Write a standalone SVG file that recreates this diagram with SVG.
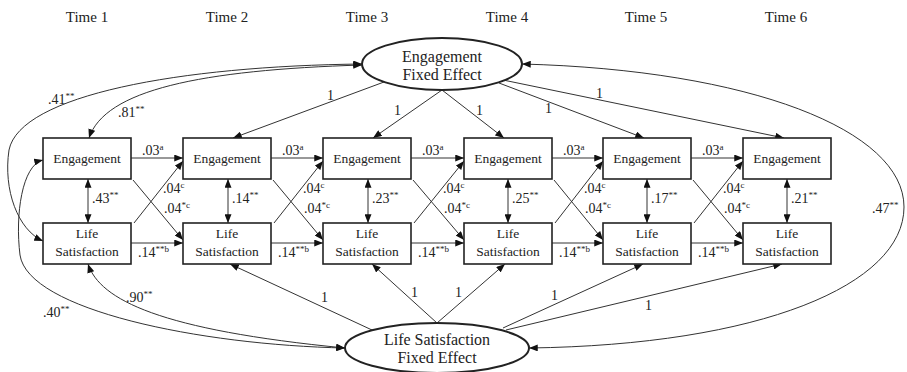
<svg xmlns="http://www.w3.org/2000/svg" width="907" height="372" viewBox="0 0 907 372" font-family="'Liberation Serif', 'Times New Roman', 'DejaVu Serif', serif">
<defs>
<marker id="ah" viewBox="0 0 10 8" refX="10" refY="4" markerWidth="9" markerHeight="7" markerUnits="userSpaceOnUse" orient="auto-start-reverse">
<path d="M0,0 L10,4 L0,8 z" fill="#111"/>
</marker>
<style>
.c{fill:none;stroke:#333;stroke-width:1;marker-end:url(#ah)}
.d{fill:none;stroke:#333;stroke-width:1;marker-end:url(#ah);marker-start:url(#ah)}
.box{fill:#fff;stroke:#222;stroke-width:1.6}
.ell{fill:#fff;stroke:#222;stroke-width:2}
.t{font-size:15px;text-anchor:middle;fill:#222}
.n{font-size:13.5px;text-anchor:middle;fill:#222}
.e{font-size:16px;text-anchor:middle;fill:#222}
.l{font-size:14px;fill:#222}
.s{font-size:9px}
</style>
</defs>
<rect width="907" height="372" fill="#fff"/>
<g id="time-labels" font-family="'Liberation Serif', 'Times New Roman', serif">
<text class="t" x="87" y="22">Time 1</text>
<text class="t" x="227" y="22">Time 2</text>
<text class="t" x="367" y="22">Time 3</text>
<text class="t" x="507" y="22">Time 4</text>
<text class="t" x="646" y="22">Time 5</text>
<text class="t" x="786" y="22">Time 6</text>
</g>
<g id="connectors">
<line class="c" x1="131" y1="158" x2="183" y2="158"/>
<line class="c" x1="271" y1="158" x2="323" y2="158"/>
<line class="c" x1="411" y1="158" x2="464" y2="158"/>
<line class="c" x1="552" y1="158" x2="603" y2="158"/>
<line class="c" x1="691" y1="158" x2="743" y2="158"/>
<line class="c" x1="131" y1="243" x2="183" y2="243"/>
<line class="c" x1="271" y1="243" x2="323" y2="243"/>
<line class="c" x1="411" y1="243" x2="464" y2="243"/>
<line class="c" x1="552" y1="243" x2="603" y2="243"/>
<line class="c" x1="691" y1="243" x2="743" y2="243"/>
<line class="c" x1="134" y1="223" x2="183" y2="161"/>
<line class="c" x1="133" y1="180" x2="183" y2="240"/>
<line class="c" x1="274" y1="223" x2="323" y2="161"/>
<line class="c" x1="273" y1="180" x2="323" y2="240"/>
<line class="c" x1="414" y1="223" x2="464" y2="161"/>
<line class="c" x1="413" y1="180" x2="464" y2="240"/>
<line class="c" x1="555" y1="223" x2="603" y2="161"/>
<line class="c" x1="554" y1="180" x2="603" y2="240"/>
<line class="c" x1="694" y1="223" x2="743" y2="161"/>
<line class="c" x1="693" y1="180" x2="743" y2="240"/>
<line class="d" x1="88" y1="179" x2="88" y2="223"/>
<line class="d" x1="228" y1="179" x2="228" y2="223"/>
<line class="d" x1="368" y1="179" x2="368" y2="223"/>
<line class="d" x1="508" y1="179" x2="508" y2="223"/>
<line class="d" x1="647" y1="179" x2="647" y2="223"/>
<line class="d" x1="787" y1="179" x2="787" y2="223"/>
<line class="c" x1="384" y1="82" x2="233" y2="138"/>
<line class="c" x1="442" y1="90" x2="373" y2="138"/>
<line class="c" x1="442" y1="90" x2="504" y2="138"/>
<line class="c" x1="499" y1="83" x2="644" y2="138"/>
<line class="c" x1="503" y1="80" x2="784" y2="138"/>
<line class="c" x1="372" y1="330" x2="230" y2="264"/>
<line class="c" x1="437" y1="323" x2="372" y2="264"/>
<line class="c" x1="437" y1="323" x2="505" y2="264"/>
<line class="c" x1="503" y1="328" x2="643" y2="264"/>
<line class="c" x1="506" y1="330" x2="782" y2="264"/>
<path class="d" d="M362,65 C200,70 105,90 89,138"/>
<path class="d" d="M362,64 C180,66 20,95 9,150 C3,190 18,230 43,241"/>
<path class="d" d="M43,160 C22,165 15,215 20,255 C28,310 200,345 345,348"/>
<path class="d" d="M88,264 C100,300 160,330 345,348"/>
<path class="d" d="M522,64 C750,70 904,130 904,207 C904,285 760,345 529,348"/>
</g>
<g id="node-eng-fe">
<ellipse class="ell" cx="442" cy="64" rx="80" ry="26"/>
<text class="e" x="442" y="62">Engagement</text>
<text class="e" x="442" y="80">Fixed Effect</text>
</g>
<g id="node-ls-fe">
<ellipse class="ell" cx="437" cy="348" rx="92" ry="25"/>
<text class="e" x="437" y="345">Life Satisfaction</text>
<text class="e" x="437" y="363">Fixed Effect</text>
</g>
<g id="node-eng1"><rect class="box" x="43" y="138" width="88" height="41"/><text class="n" x="87" y="163">Engagement</text></g>
<g id="node-eng2"><rect class="box" x="183" y="138" width="88" height="41"/><text class="n" x="227" y="163">Engagement</text></g>
<g id="node-eng3"><rect class="box" x="323" y="138" width="88" height="41"/><text class="n" x="367" y="163">Engagement</text></g>
<g id="node-eng4"><rect class="box" x="464" y="138" width="88" height="41"/><text class="n" x="508" y="163">Engagement</text></g>
<g id="node-eng5"><rect class="box" x="603" y="138" width="88" height="41"/><text class="n" x="647" y="163">Engagement</text></g>
<g id="node-eng6"><rect class="box" x="743" y="138" width="88" height="41"/><text class="n" x="787" y="163">Engagement</text></g>
<g id="node-ls1"><rect class="box" x="43" y="223" width="88" height="41"/><text class="n" x="87" y="238">Life</text><text class="n" x="87" y="256">Satisfaction</text></g>
<g id="node-ls2"><rect class="box" x="183" y="223" width="88" height="41"/><text class="n" x="227" y="238">Life</text><text class="n" x="227" y="256">Satisfaction</text></g>
<g id="node-ls3"><rect class="box" x="323" y="223" width="88" height="41"/><text class="n" x="367" y="238">Life</text><text class="n" x="367" y="256">Satisfaction</text></g>
<g id="node-ls4"><rect class="box" x="464" y="223" width="88" height="41"/><text class="n" x="508" y="238">Life</text><text class="n" x="508" y="256">Satisfaction</text></g>
<g id="node-ls5"><rect class="box" x="603" y="223" width="88" height="41"/><text class="n" x="647" y="238">Life</text><text class="n" x="647" y="256">Satisfaction</text></g>
<g id="node-ls6"><rect class="box" x="743" y="223" width="88" height="41"/><text class="n" x="787" y="238">Life</text><text class="n" x="787" y="256">Satisfaction</text></g>
<g id="labels">
<text class="l" x="142" y="155">.03<tspan class="s" dy="-5">a</tspan></text>
<text class="l" x="282" y="155">.03<tspan class="s" dy="-5">a</tspan></text>
<text class="l" x="422" y="155">.03<tspan class="s" dy="-5">a</tspan></text>
<text class="l" x="563" y="155">.03<tspan class="s" dy="-5">a</tspan></text>
<text class="l" x="702" y="155">.03<tspan class="s" dy="-5">a</tspan></text>
<text class="l" x="163" y="193">.04<tspan class="s" dy="-5">c</tspan></text>
<text class="l" x="303" y="193">.04<tspan class="s" dy="-5">c</tspan></text>
<text class="l" x="443" y="193">.04<tspan class="s" dy="-5">c</tspan></text>
<text class="l" x="584" y="193">.04<tspan class="s" dy="-5">c</tspan></text>
<text class="l" x="723" y="193">.04<tspan class="s" dy="-5">c</tspan></text>
<text class="l" x="164" y="213">.04<tspan class="s" dy="-5">*c</tspan></text>
<text class="l" x="304" y="213">.04<tspan class="s" dy="-5">*c</tspan></text>
<text class="l" x="444" y="213">.04<tspan class="s" dy="-5">*c</tspan></text>
<text class="l" x="585" y="213">.04<tspan class="s" dy="-5">*c</tspan></text>
<text class="l" x="724" y="213">.04<tspan class="s" dy="-5">*c</tspan></text>
<text class="l" x="138" y="257">.14<tspan class="s" dy="-5">**b</tspan></text>
<text class="l" x="278" y="257">.14<tspan class="s" dy="-5">**b</tspan></text>
<text class="l" x="418" y="257">.14<tspan class="s" dy="-5">**b</tspan></text>
<text class="l" x="559" y="257">.14<tspan class="s" dy="-5">**b</tspan></text>
<text class="l" x="698" y="257">.14<tspan class="s" dy="-5">**b</tspan></text>
<text class="l" x="92" y="203">.43<tspan class="s" dy="-5">**</tspan></text>
<text class="l" x="232" y="203">.14<tspan class="s" dy="-5">**</tspan></text>
<text class="l" x="372" y="203">.23<tspan class="s" dy="-5">**</tspan></text>
<text class="l" x="512" y="203">.25<tspan class="s" dy="-5">**</tspan></text>
<text class="l" x="651" y="203">.17<tspan class="s" dy="-5">**</tspan></text>
<text class="l" x="791" y="203">.21<tspan class="s" dy="-5">**</tspan></text>
<text class="l" x="327" y="100">1</text>
<text class="l" x="394" y="115">1</text>
<text class="l" x="476" y="115">1</text>
<text class="l" x="545" y="113">1</text>
<text class="l" x="596" y="98">1</text>
<text class="l" x="321" y="302">1</text>
<text class="l" x="411" y="297">1</text>
<text class="l" x="455" y="297">1</text>
<text class="l" x="551" y="300">1</text>
<text class="l" x="645" y="310">1</text>
<text class="l" x="48" y="104">.41<tspan class="s" dy="-5">**</tspan></text>
<text class="l" x="118" y="117">.81<tspan class="s" dy="-5">**</tspan></text>
<text class="l" x="43" y="317">.40<tspan class="s" dy="-5">**</tspan></text>
<text class="l" x="126" y="302">.90<tspan class="s" dy="-5">**</tspan></text>
<text class="l" x="872" y="213">.47<tspan class="s" dy="-5">**</tspan></text>
</g>
</svg>
